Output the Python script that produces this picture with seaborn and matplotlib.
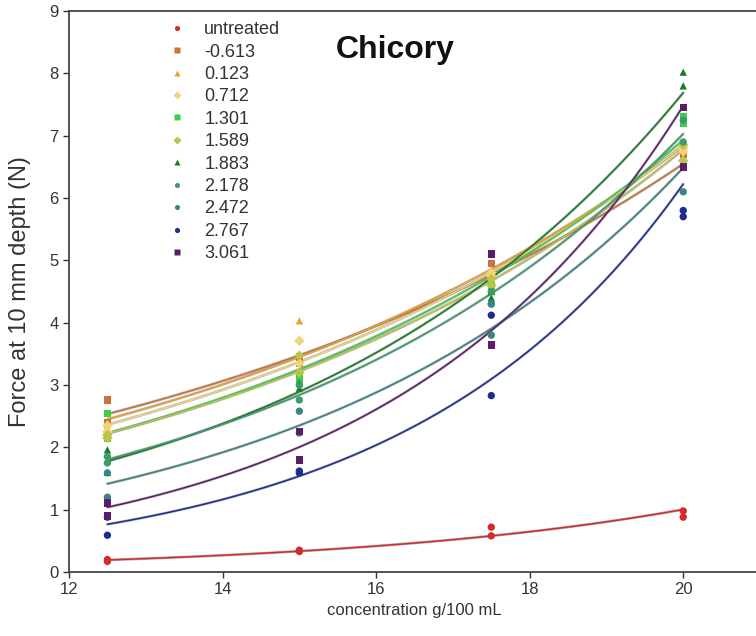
import numpy as np
import pandas as pd
import matplotlib
matplotlib.use('Agg')
import matplotlib.pyplot as plt
import seaborn as sns

sns.set_theme(style='white')
plt.rcParams['font.family'] = ['Liberation Sans', 'DejaVu Sans']

# concentrations (g/100 mL)
conc = [12.5, 15, 17.5, 20]

# group labels (legend order)
groups = ['untreated', '-0.613', '0.123', '0.712', '1.301', '1.589',
          '1.883', '2.178', '2.472', '2.767', '3.061']

# replicate readings per concentration for each group
force = {
    'untreated': [[0.20, 0.17], [0.33, 0.35], [0.72, 0.58], [0.98, 0.88]],
    '-0.613':    [[2.76, 2.40], [3.45, 3.35], [4.95, 4.60], [6.50, 6.70]],
    '0.123':     [[2.36, 2.30], [4.03, 3.50], [4.85, 4.70], [6.85, 6.60]],
    '0.712':     [[2.25, 2.35], [3.71, 3.35], [4.75, 4.80], [6.75, 6.80]],
    '1.301':     [[2.54, 2.15], [3.16, 3.03], [4.60, 4.50], [7.30, 7.20]],
    '1.589':     [[2.15, 2.20], [3.47, 3.20], [4.70, 4.60], [6.85, 6.60]],
    '1.883':     [[1.60, 1.96], [3.03, 2.95], [4.50, 4.40], [8.02, 7.80]],
    '2.178':     [[1.85, 1.75], [3.00, 2.76], [4.50, 4.30], [7.25, 6.90]],
    '2.472':     [[1.59, 1.20], [2.58, 2.23], [3.80, 4.30], [6.10, 6.50]],
    '2.767':     [[0.88, 0.59], [1.59, 1.62], [2.83, 4.12], [5.80, 5.70]],
    '3.061':     [[1.11, 0.90], [1.80, 2.25], [3.64, 5.10], [7.45, 6.50]],
}

colors = ['#d42a2a', '#c8743c', '#eaa030', '#f2d27a', '#3ccf4e', '#bcc24a',
          '#1c7a22', '#3c9c6a', '#3a8484', '#1c2c92', '#5c1c6c']
markers = ['o', 's', '^', 'D', 's', 'D', '^', 'o', 'o', 'o', 's']

# long-form table
rows = []
for g in groups:
    for c, vals in zip(conc, force[g]):
        for v in vals:
            rows.append({'group': g, 'conc': c, 'force': v})
df = pd.DataFrame(rows)

fig = plt.figure(figsize=(7.56, 6.36), dpi=100)
ax = fig.add_axes([0.0913, 0.1006, 0.914, 0.882])

# exponential fit line for each group
xs = np.linspace(12.5, 20, 100)
for g, col in zip(groups, colors):
    sub = df[df['group'] == g]
    b, a = np.polyfit(sub['conc'], np.log(sub['force']), 1)
    ys = np.exp(a + b * xs)
    ax.plot(xs, ys, color='#333333', lw=2.0, alpha=0.35, zorder=2)
    ax.plot(xs, ys, color=col, lw=1.1, zorder=3)

sns.scatterplot(data=df, x='conc', y='force', hue='group', style='group',
                hue_order=groups, style_order=groups,
                palette=dict(zip(groups, colors)),
                markers=dict(zip(groups, markers)),
                s=28, edgecolor='none', ax=ax, zorder=4)

ax.set_xlim(12, 21)
ax.set_ylim(0, 9)
ax.set_xticks([12, 14, 16, 18, 20])
ax.set_yticks(range(0, 10))
ax.tick_params(axis='both', direction='out', length=4, width=1,
               labelsize=12, colors='#333333', left=True, bottom=True)
for sp in ax.spines.values():
    sp.set_color('#444444')
    sp.set_linewidth(1.3)

ax.set_xlabel('concentration g/100 mL', fontsize=12, color='#333333', labelpad=4)
ax.set_ylabel('Force at 10 mm depth (N)', fontsize=17, color='#333333')
ax.yaxis.set_label_coords(-0.055, 0.5)

ax.text(0.472, 0.93, 'Chicory', transform=ax.transAxes, fontsize=23,
        fontweight='bold', ha='center', va='center', color='#111111')

leg = ax.legend(loc='upper left', bbox_to_anchor=(0.12, 0.995), frameon=False,
                fontsize=13, handletextpad=0.5, labelspacing=0.3,
                markerscale=0.7, borderaxespad=0)
for t in leg.get_texts():
    t.set_color('#333333')

fig.savefig('out.png', dpi=100)
